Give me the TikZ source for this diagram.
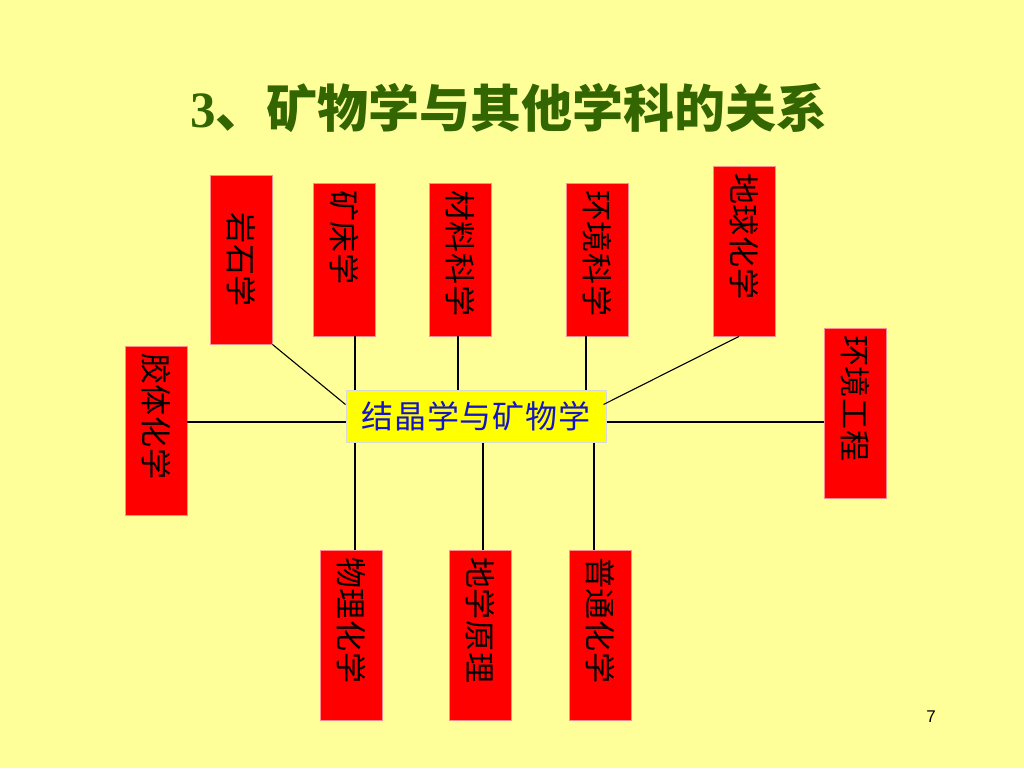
\documentclass[tikz,border=0pt]{standalone}
\usepackage{fontspec}
\setmainfont{Liberation Serif}
\newfontfamily\cjk{Noto Sans CJK SC}
\newfontfamily\pagina{Liberation Sans}
\usetikzlibrary{calc}
\definecolor{fundo}{HTML}{FFFF99}
\definecolor{vermelho}{HTML}{FF0000}
\definecolor{borda}{HTML}{FF8C8C}
\definecolor{amarelo}{HTML}{FFFF00}
\definecolor{verde}{HTML}{336600}
\definecolor{azul}{HTML}{1414C8}
\newcommand{\shu}[3][l]{\rotatebox{-90}{\makebox[#2pt][#1]{#3}}}

\begin{document}
\begin{tikzpicture}[
      x=1pt, y=-1pt,
      hong/.style={rectangle, fill=vermelho, draw=borda, line width=0.8pt, minimum width=62pt, inner xsep=0pt, inner ysep=7pt, font=\cjk\fontsize{31}{31}\selectfont\addfontfeature{LetterSpace=3}},
      centro/.style={rectangle, fill=amarelo, draw=black!15, line width=1pt, minimum width=260pt, minimum height=52pt, text=azul, font=\cjk\fontsize{32}{32}\selectfont\addfontfeature{LetterSpace=3}},
      liga/.style={draw=black, line width=1.1pt}
    ]
    \useasboundingbox[fill=fundo] (0,0) rectangle (1024,768);

    % Titulo
    \node[text=verde, font=\bfseries\fontsize{51}{51}\selectfont] (titulo) at (509,108) {3{\cjk 、矿物学与其他学科的关系}};

    % Centro
    \node[centro] (jj) at (476,416) {结晶学与矿物学};

    % Disciplinas de cima
    \node[hong] (ys) at (241,259.5) {\shu[c]{155}{岩石学}};
    \node[hong] (kc) at (344,259.5) {\shu{139}{矿床学}};
    \node[hong] (cl) at (460.5,259.5) {\shu{139}{材料科学}};
    \node[hong] (hj) at (597,259.5) {\shu{139}{环境科学}};
    \node[hong] (dq) at (744.5,251) {\shu{156}{地球化学}};

    % Disciplinas dos lados
    \node[hong] (jt) at (156,430.5) {\shu{155}{胶体化学}};
    \node[hong] (hg) at (855.5,413) {\shu{156}{环境工程}};

    % Disciplinas de baixo
    \node[hong] (wl) at (351.5,635) {\shu{156}{物理化学}};
    \node[hong] (dx) at (480,635) {\shu{156}{地学原理}};
    \node[hong] (pt) at (600,635) {\shu{156}{普通化学}};

    \draw[liga] (ys.south east) -- ([yshift=-15pt]jj.north west);
    \draw[liga] ([xshift=11pt]kc.south) -- ([xshift=-121pt]jj.north);
    \draw[liga] ([xshift=-2.5pt]cl.south) -- ([xshift=-18pt]jj.north);
    \draw[liga] ([xshift=-11pt]hj.south) -- ([xshift=110pt]jj.north);
    \draw[liga] ([xshift=-5.5pt]dq.south) -- ([xshift=-3pt, yshift=-15pt]jj.north east);

    \draw[liga] ([yshift=8.5pt]jt.east) -- ([yshift=-6pt]jj.west);
    \draw[liga] ([yshift=-6pt]jj.east) -- ([yshift=-9pt]hg.west);

    \draw[liga] ([xshift=3.5pt]wl.north) -- ([xshift=-121pt]jj.south);
    \draw[liga] ([xshift=3pt]dx.north) -- ([xshift=7pt]jj.south);
    \draw[liga] ([xshift=-6pt]pt.north) -- ([xshift=118pt]jj.south);

    % Numero da pagina
    \node[font=\pagina\fontsize{17}{17}\selectfont] (pag) at (931,717) {7};

  \end{tikzpicture}
\end{document}
